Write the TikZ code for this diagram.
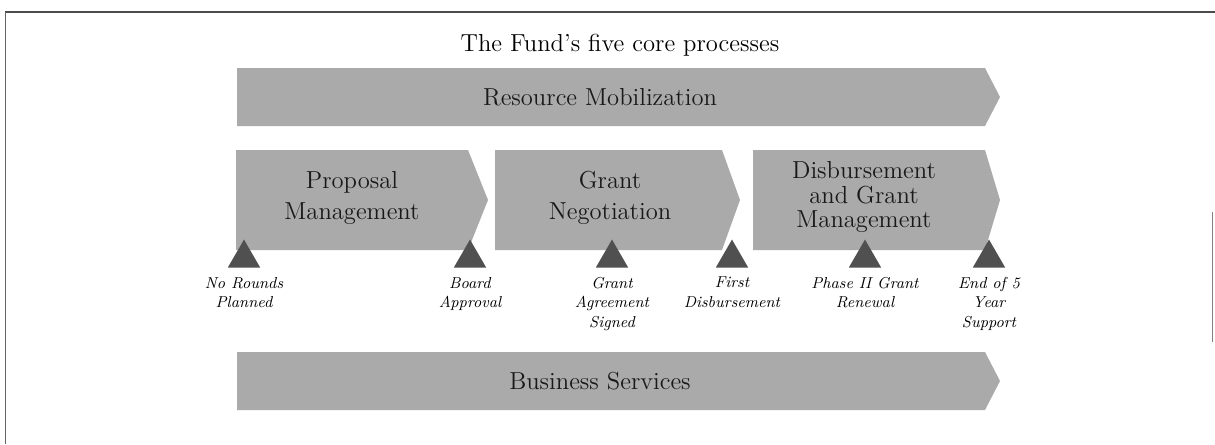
\documentclass[tikz,border=0pt]{standalone}
\usetikzlibrary{positioning,shapes.geometric}
\definecolor{bargray}{RGB}{170,170,170}
\definecolor{markgray}{RGB}{80,80,80}
\tikzset{
  bar/.style={fill=bargray},
  bartext/.style={font=\fontsize{14}{17.5}\selectfont, text=black!90, align=center},
  milestone/.style={regular polygon, regular polygon sides=3, fill=markgray,
    inner sep=0pt, minimum size=0.75cm, anchor=side 2},
  mlabel/.style={font=\fontsize{9}{11.2}\selectfont\itshape, align=center, inner sep=1pt}
}
\begin{document}
\begin{tikzpicture}[x=0.02cm,y=-0.02cm]
	\useasboundingbox (0,0) rectangle (1215,444);
	% frame
	\draw[black!70, line width=1pt] (5,12) -- (1215,12);
	\draw[black!60, line width=0.5pt] (5,12) -- (5,444);
	\draw[black!50, line width=0.5pt] (1212,212) -- (1212,342);
	\node[font=\fontsize{14}{17}\selectfont] (title) at (620,45) {The Fund's five core processes};
	% long bars
	\fill[bar] (237,68) -- (985,68) -- (1000,97) -- (985,126) -- (237,126) -- cycle;
	\node[bartext] (resmob) at (600,97) {Resource Mobilization};
	\fill[bar] (237,352) -- (985,352) -- (1000,381) -- (985,410) -- (237,410) -- cycle;
	\node[bartext] (bizserv) at (600,381) {Business Services};
	% process chevrons
	\fill[bar] (236,150) -- (468,150) -- (488,200) -- (468,250) -- (236,250) -- cycle;
	\node[bartext] (propmgmt) at (352,198) {Proposal\\Management};
	\fill[bar] (495,150) -- (722,150) -- (740,200) -- (722,250) -- (495,250) -- cycle;
	\node[bartext] (grantneg) at (610,198) {Grant\\Negotiation};
	\fill[bar] (753,150) -- (985,150) -- (1000,200) -- (985,250) -- (753,250) -- cycle;
	\node[bartext, font=\fontsize{14}{13.8}\selectfont] (disbmgmt) at (864,197) {Disbursement\\and Grant\\Management};
	% milestones
	\node[milestone] (m1) at (244,268) {};
	\node[milestone] (m2) at (470,268) {};
	\node[milestone] (m3) at (612,268) {};
	\node[milestone] (m4) at (732,268) {};
	\node[milestone] (m5) at (865,268) {};
	\node[milestone] (m6) at (989,268) {};
	\node[mlabel, below=4pt of m1] (l1) {No Rounds\\Planned};
	\node[mlabel, below=4pt of m2] (l2) {Board\\Approval};
	\node[mlabel, below=4pt of m3] (l3) {Grant\\Agreement\\Signed};
	\node[mlabel, below=4pt of m4] (l4) {First\\Disbursement};
	\node[mlabel, below=4pt of m5] (l5) {Phase II Grant\\Renewal};
	\node[mlabel, below=4pt of m6] (l6) {End of 5\\Year\\Support};
\end{tikzpicture}
\end{document}
